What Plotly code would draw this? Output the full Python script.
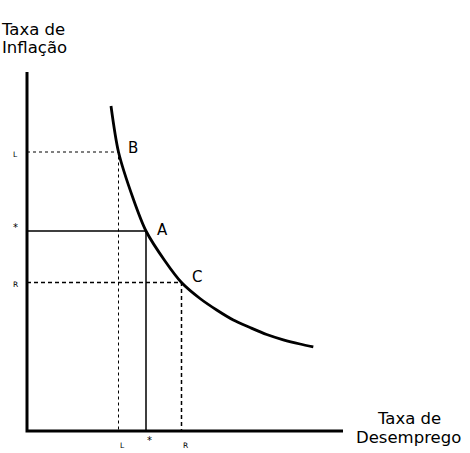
import plotly.graph_objects as go

# Phillips curve points (x = unemployment, y = inflation), conceptual units
curve_x = [8.4, 9.15, 10.63, 11.9, 13.8, 15.45, 17.3, 18.97, 20.63, 22.3, 23.97, 25.63, 27.3, 28.63]
curve_y = [32.5, 27.9, 23.2, 20.0, 17.0, 14.85, 13.25, 12.1, 11.1, 10.35, 9.65, 9.12, 8.7, 8.42]

# named points
pt_names = ["B", "A", "C"]
pt_x = [9.15, 11.9, 15.45]
pt_y = [27.9, 20.0, 14.85]

# tick labels (for L, *, R)
y_tick_labels = ["L", "*", "R"]
x_tick_labels = ["L", "*", "R"]

axis_x_end = 31.6
axis_y_end = 35.9

FONT = "DejaVu Sans"

fig = go.Figure()

# axes
fig.add_trace(go.Scatter(x=[0, 0, axis_x_end], y=[axis_y_end, 0, 0], mode="lines",
                         line=dict(color="black", width=3), hoverinfo="skip"))

# B guides (fine dashes)
fig.add_trace(go.Scatter(x=[0, pt_x[0], pt_x[0]], y=[pt_y[0], pt_y[0], 0], mode="lines",
                         line=dict(color="black", width=1, dash="3px,3px"), hoverinfo="skip"))
# A guides (solid)
fig.add_trace(go.Scatter(x=[0, pt_x[1], pt_x[1]], y=[pt_y[1], pt_y[1], 0], mode="lines",
                         line=dict(color="black", width=1.5), hoverinfo="skip"))
# C guides (dashes)
fig.add_trace(go.Scatter(x=[0, pt_x[2], pt_x[2]], y=[pt_y[2], pt_y[2], 0], mode="lines",
                         line=dict(color="black", width=1.5, dash="4px,3px"), hoverinfo="skip"))

# curve
fig.add_trace(go.Scatter(x=curve_x, y=curve_y, mode="lines",
                         line=dict(color="black", width=2.8, shape="spline", smoothing=0.8),
                         hoverinfo="skip"))

ann = []
# point labels
offsets = {"B": (1.4, 0.45), "A": (1.65, 0.15), "C": (1.55, 0.55)}
for n, x, y in zip(pt_names, pt_x, pt_y):
    dx, dy = offsets[n]
    ann.append(dict(x=x + dx, y=y + dy, text=n, showarrow=False, font=dict(family=FONT, size=15, color="black"),
                    xanchor="center", yanchor="middle"))
# y tick labels
for t, y in zip(y_tick_labels, pt_y):
    yy = y + (0.35 if t == "*" else -0.2)
    ann.append(dict(x=-1.2, y=yy, text=t, showarrow=False,
                    font=dict(family=FONT, size=7.5 if t != "*" else 10, color="black"),
                    xanchor="center", yanchor="middle"))
# x tick labels
for t, x in zip(x_tick_labels, pt_x):
    if t == "*":
        ann.append(dict(x=x + 0.3, y=-0.9, text=t, showarrow=False, font=dict(family=FONT, size=10, color="black"),
                        xanchor="center", yanchor="middle"))
    else:
        ann.append(dict(x=x + 0.35, y=-1.45, text=t, showarrow=False, font=dict(family=FONT, size=7.5, color="black"),
                        xanchor="center", yanchor="middle"))
# axis titles
ann.append(dict(x=0.55, y=40.2, text="Taxa de", showarrow=False,
                font=dict(family=FONT, size=16.5, color="black"), xanchor="center", yanchor="middle"))
ann.append(dict(x=0.75, y=38.4, text="Inflação", showarrow=False,
                font=dict(family=FONT, size=16.5, color="black"), xanchor="center", yanchor="middle"))
ann.append(dict(x=38.2, y=1.25, text="Taxa de", showarrow=False,
                font=dict(family=FONT, size=16.5, color="black"), xanchor="center", yanchor="middle"))
ann.append(dict(x=38.1, y=-0.65, text="Desemprego", showarrow=False,
                font=dict(family=FONT, size=16.5, color="black"), xanchor="center", yanchor="middle"))

fig.update_layout(
    width=470, height=453, margin=dict(l=0, r=0, t=0, b=0),
    paper_bgcolor="white", plot_bgcolor="white", showlegend=False,
    xaxis=dict(range=[-2.7, 44.3], visible=False, fixedrange=True),
    yaxis=dict(range=[-2.2, 43.1], visible=False, fixedrange=True),
    annotations=ann,
)

fig.write_html("out.html")
